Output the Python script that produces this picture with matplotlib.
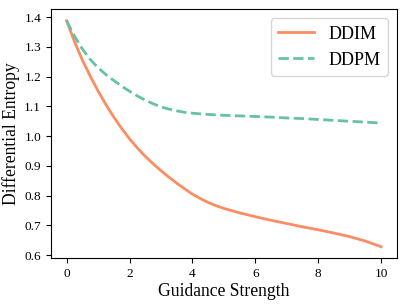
import matplotlib
matplotlib.use("Agg")
import matplotlib.pyplot as plt

plt.rcParams['font.family'] = ['Liberation Serif', 'DejaVu Serif']

x = [0, 0.25, 0.5, 0.75, 1, 1.25, 1.5, 1.75, 2, 2.25, 2.5, 2.75, 3, 3.25, 3.5, 3.75, 4,
     4.25, 4.5, 4.75, 5, 5.5, 6, 6.5, 7, 7.5, 8, 8.5, 9, 9.5, 10]
ddim = [1.388, 1.318, 1.256, 1.202, 1.152, 1.106, 1.064, 1.026, 0.991, 0.960, 0.932,
        0.907, 0.884, 0.862, 0.842, 0.823, 0.805, 0.790, 0.777, 0.766, 0.757,
        0.742, 0.729, 0.717, 0.706, 0.695, 0.685, 0.674, 0.662, 0.647, 0.628]
ddpm = [1.388, 1.336, 1.293, 1.258, 1.230, 1.207, 1.187, 1.168, 1.151, 1.135, 1.121,
        1.109, 1.098, 1.091, 1.085, 1.080, 1.077, 1.075, 1.073, 1.0715, 1.070,
        1.068, 1.066, 1.064, 1.061, 1.059, 1.056, 1.053, 1.050, 1.047, 1.044]
xticks = [0, 2, 4, 6, 8, 10]
yticks = [0.6, 0.7, 0.8, 0.9, 1.0, 1.1, 1.2, 1.3, 1.4]

fig = plt.figure(figsize=(4.07, 3.05), dpi=100)
ax = fig.add_axes([0.125, 0.154, 0.85, 0.815])
ax.plot(x, ddim, color='#FC8D62', lw=2, label='DDIM')
ax.plot(x, ddpm, color='#66C2A5', lw=2, ls='--', label='DDPM')
ax.set_xticks(xticks)
ax.set_yticks(yticks)
ax.tick_params(labelsize=9.5)
ax.set_xlabel('Guidance Strength', fontsize=12.7, labelpad=2)
ax.set_ylabel('Differential Entropy', fontsize=12.7, labelpad=3)
ax.legend(loc='upper right', fontsize=13)
fig.savefig('out.png', dpi=100)
